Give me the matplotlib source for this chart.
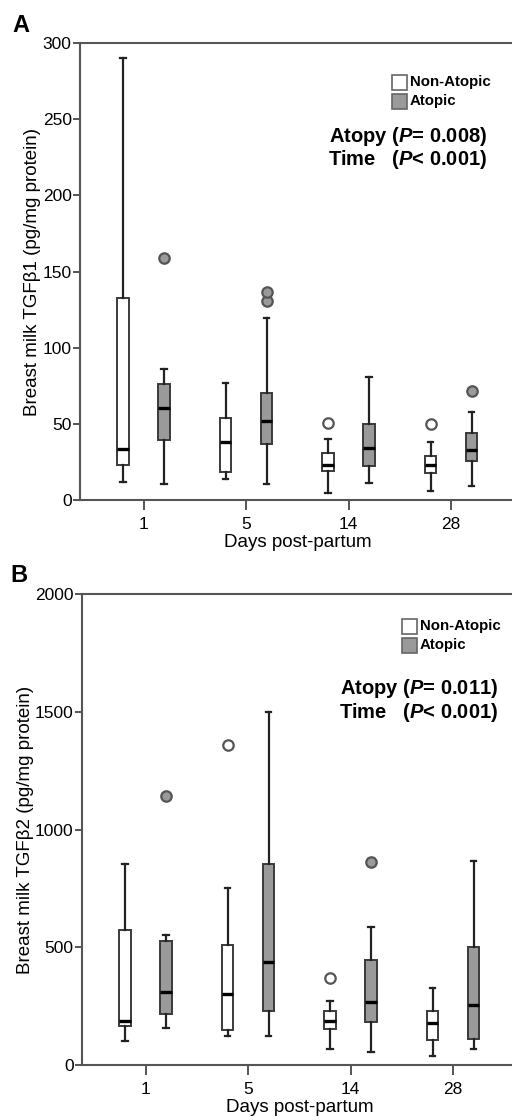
import matplotlib
matplotlib.use("Agg")
import matplotlib.pyplot as plt
from matplotlib import font_manager
from matplotlib.patches import Rectangle

days = ["1", "5", "14", "28"]
groups = ["Non-Atopic", "Atopic"]

# Panel A: TGF-beta1 (pg/mg protein)
a_non_lo = [11.6, 13.6, 4.6, 5.7]
a_non_q1 = [23.2, 18.2, 19.3, 17.7]
a_non_med = [33.5, 38.3, 22.8, 23.2]
a_non_q3 = [132.8, 53.6, 30.9, 28.9]
a_non_hi = [290, 77, 40, 37.9]
a_non_fl = [[], [], [50.3], [49.7]]

a_at_lo = [10.7, 10.7, 11.2, 9.4]
a_at_q1 = [39.2, 37.0, 22.5, 25.8]
a_at_med = [60.6, 51.9, 33.9, 32.6]
a_at_q3 = [76.2, 70.0, 49.9, 44.0]
a_at_hi = [86, 119.7, 81, 58]
a_at_fl = [[159], [130.9, 136.8], [], [71.8]]

# Panel B: TGF-beta2 (pg/mg protein)
b_non_lo = [100, 123, 66, 37]
b_non_q1 = [166, 147, 151, 106]
b_non_med = [187, 302, 186, 180]
b_non_q3 = [574, 512, 231, 230]
b_non_hi = [853, 754, 272, 326]
b_non_fl = [[], [1359], [371], []]

b_at_lo = [156, 125, 54, 66]
b_at_q1 = [217, 231, 182, 111]
b_at_med = [310, 438, 269, 255]
b_at_q3 = [527, 852, 447, 503]
b_at_hi = [554, 1500, 585, 866]
b_at_fl = [[1143], [], [863], []]

avail = {f.name for f in font_manager.fontManager.ttflist}
base_font = "Liberation Sans" if "Liberation Sans" in avail else "DejaVu Sans"

plt.rcParams["font.family"] = [base_font, "DejaVu Sans"]
plt.rcParams["mathtext.fontset"] = "custom"
plt.rcParams["mathtext.bfit"] = f"{base_font}:italic:bold"
plt.rcParams["mathtext.it"] = f"{base_font}:italic:bold"

EDGE = "#3a3a3a"
SPINE = "#555555"
GRAY = "#9a9a9a"


def make_stats(lo, q1, med, q3, hi, fl):
    return [dict(whislo=lo[i], q1=q1[i], med=med[i], q3=q3[i], whishi=hi[i],
                 fliers=fl[i]) for i in range(len(lo))]


def draw_group(ax, stats, positions, face):
    ax.bxp(stats, positions=positions, widths=0.11, capwidths=0.055,
           patch_artist=True, showfliers=True, manage_ticks=False,
           boxprops=dict(facecolor=face, edgecolor=EDGE, linewidth=1.4),
           whiskerprops=dict(color="#222222", linewidth=1.6),
           capprops=dict(color="#222222", linewidth=1.6),
           medianprops=dict(color="black", linewidth=2.4),
           flierprops=dict(marker="o", markersize=7.5, markerfacecolor=face,
                           markeredgecolor="#555555", markeredgewidth=1.6))


def panel(ax, non, at, ymax, yticks, ylabel, stat_lines, leg_xy, stat_xy):
    pos = list(range(len(days)))
    draw_group(ax, make_stats(*non), [p - 0.2 for p in pos], "white")
    draw_group(ax, make_stats(*at), [p + 0.2 for p in pos], GRAY)
    ax.set_xlim(-0.62, 3.62)
    ax.set_ylim(0, ymax)
    ax.set_xticks(pos)
    ax.set_xticklabels(days)
    ax.set_yticks(yticks)
    ax.tick_params(axis="both", labelsize=12.5, colors=SPINE, labelcolor="black",
                   width=1.4, direction="out")
    ax.tick_params(axis="y", length=5, pad=1)
    ax.tick_params(axis="x", length=7, pad=5)
    for s in ["left", "bottom", "top"]:
        ax.spines[s].set_color(SPINE)
        ax.spines[s].set_linewidth(1.5)
    ax.spines["right"].set_visible(False)
    ax.set_xlabel("Days post-partum", fontsize=13.5, labelpad=2)
    ax.set_ylabel(ylabel, fontsize=13.5, labelpad=1)

    fig = ax.figure
    lx, ly = leg_xy
    for k, (lab, face) in enumerate(zip(groups, ["white", GRAY])):
        y = ly + k * 19
        fx, fy = lx / 512, 1 - y / 1120
        fig.patches.append(Rectangle((fx, fy - 7.5 / 1120), 15 / 512, 15 / 1120,
                                     transform=fig.transFigure, facecolor=face,
                                     edgecolor="#666666", linewidth=1.2))
        fig.text(fx + 18 / 512, fy, lab, fontsize=10.8, fontweight="bold",
                 va="center", ha="left")
    sx, sy = stat_xy
    for k, line in enumerate(stat_lines):
        fig.text(sx / 512, 1 - (sy + k * 23) / 1120, line, fontsize=14.5,
                 fontweight="bold", va="center", ha="right")


fig = plt.figure(figsize=(5.12, 11.2), dpi=100)
axA = fig.add_axes([80 / 512, 1 - 500 / 1120, 0.849, 457 / 1120])
axB = fig.add_axes([82 / 512, 1 - 1065 / 1120, 0.849, 470.7 / 1120])

panel(axA,
      (a_non_lo, a_non_q1, a_non_med, a_non_q3, a_non_hi, a_non_fl),
      (a_at_lo, a_at_q1, a_at_med, a_at_q3, a_at_hi, a_at_fl),
      300, [0, 50, 100, 150, 200, 250, 300],
      "Breast milk TGFβ1 (pg/mg protein)",
      [r"Atopy ($\mathbfit{P}$= 0.008)", r"Time   ($\mathbfit{P}$< 0.001)"],
      (392, 82), (487, 137))

panel(axB,
      (b_non_lo, b_non_q1, b_non_med, b_non_q3, b_non_hi, b_non_fl),
      (b_at_lo, b_at_q1, b_at_med, b_at_q3, b_at_hi, b_at_fl),
      2000, [0, 500, 1000, 1500, 2000],
      "Breast milk TGFβ2 (pg/mg protein)",
      [r"Atopy ($\mathbfit{P}$= 0.011)", r"Time   ($\mathbfit{P}$< 0.001)"],
      (402, 626), (498, 689))

fig.text(12 / 512, 1 - 25 / 1120, "A", fontsize=17, fontweight="bold",
         va="center", ha="left")
fig.text(10 / 512, 1 - 575 / 1120, "B", fontsize=17, fontweight="bold",
         va="center", ha="left")

fig.savefig("out.png", dpi=100)
